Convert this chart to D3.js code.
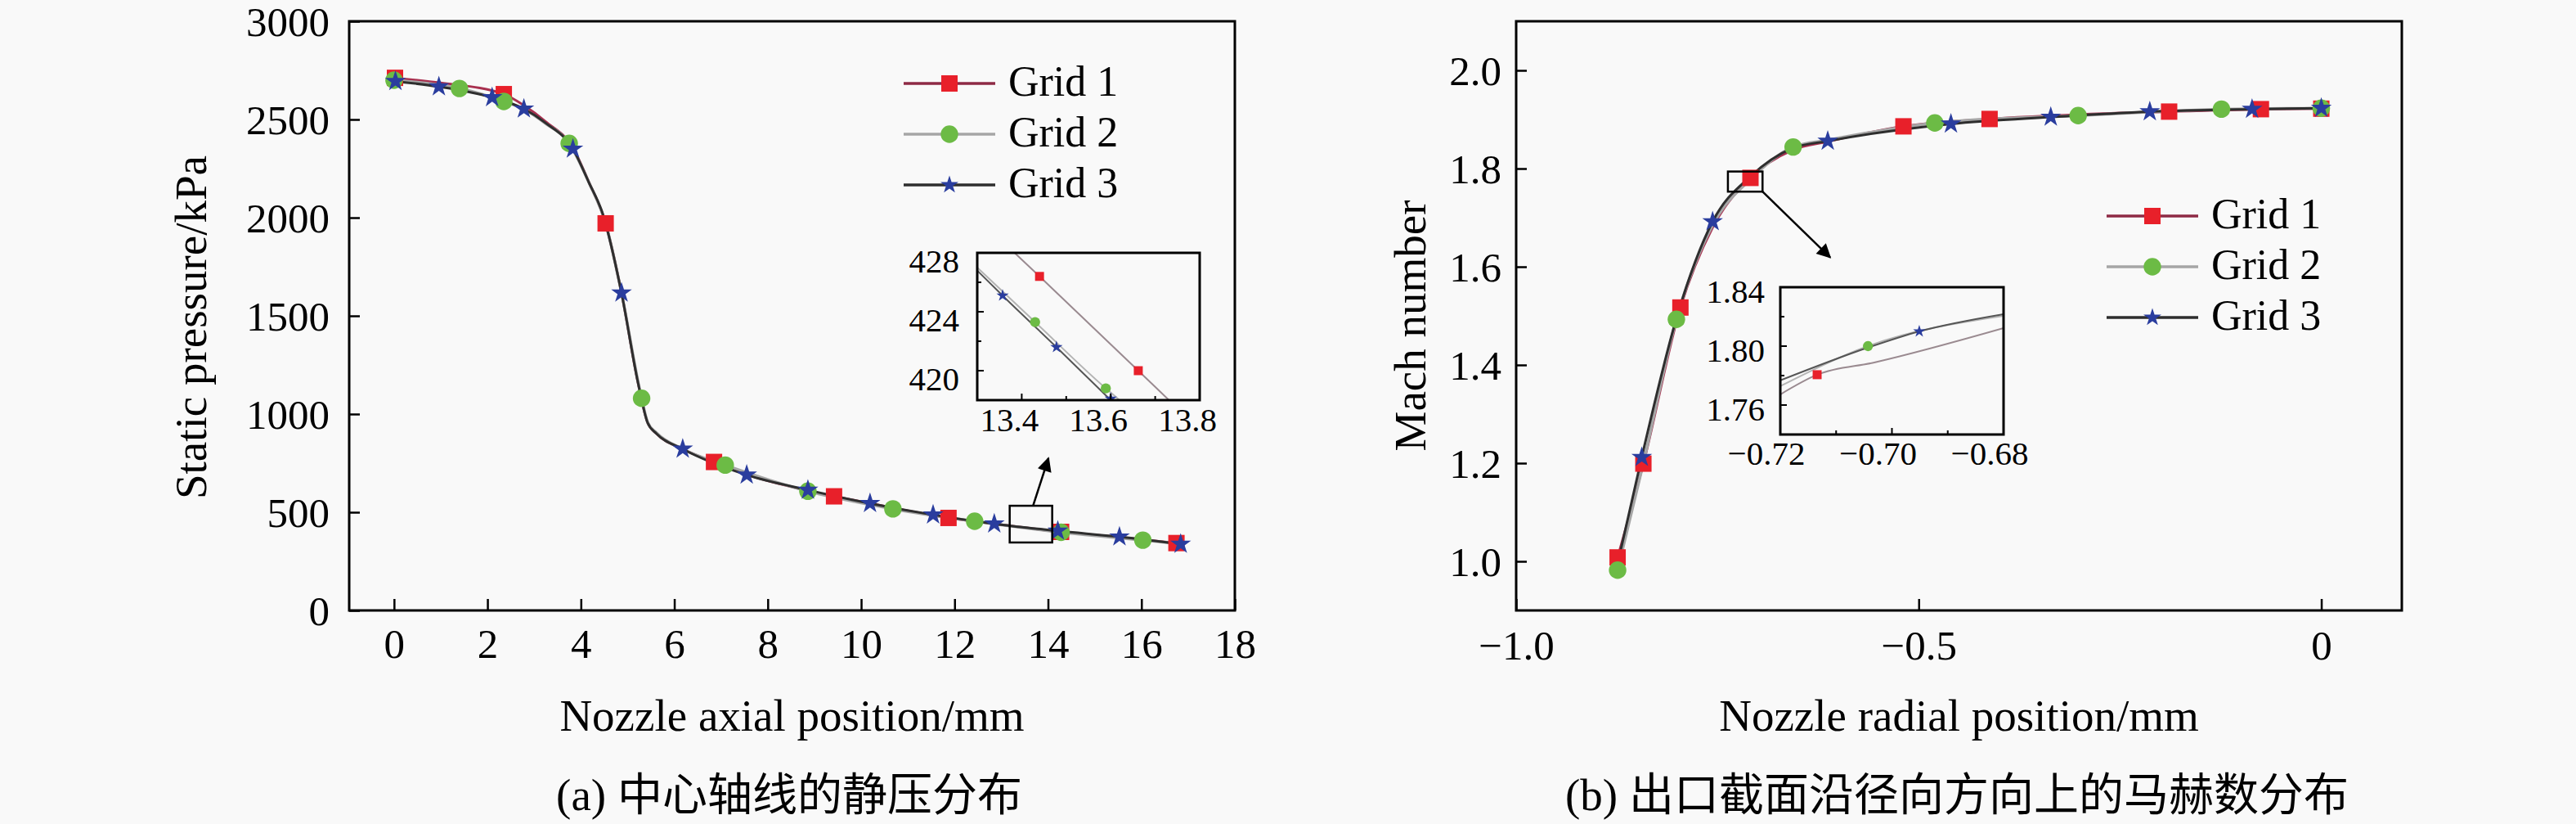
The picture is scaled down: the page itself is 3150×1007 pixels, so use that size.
<!DOCTYPE html>
<html><head><meta charset="utf-8">
<script src="https://cdn.jsdelivr.net/npm/d3@7"></script>
<style>html,body{margin:0;padding:0;background:#f9f9f9;} svg{display:block;}</style>
</head><body>
<svg id="c" width="3150" height="1007"></svg>
<script>
// ---------------- DATA: panel (a) static pressure along axis ----------------
const aXTicks = [0, 2, 4, 6, 8, 10, 12, 14, 16, 18];
const aYTicks = [0, 500, 1000, 1500, 2000, 2500, 3000];
const aGrid1Line = [[0,2712],[1.0,2686],[2.35,2629],[2.78,2572],[3.24,2490],[3.83,2355],[4.17,2182],[4.53,1971],[4.87,1617],[5.22,1163],[5.43,955],[5.62,900],[6.18,822],[6.85,756],[7.55,692],[8.86,610],[9.42,581],[10.19,545],[11.87,471],[12.85,441],[14.28,400],[15.53,373],[16.75,343]];
const aGrid2Line = [[0,2700],[1.40,2658],[2.35,2592],[2.78,2552],[3.24,2480],[3.75,2378],[4.17,2180],[4.53,1971],[4.87,1617],[5.30,1080],[5.43,958],[5.62,904],[6.18,822],[7.09,740],[8.86,607],[10.68,517],[12.43,454],[14.28,398],[16.03,358],[16.84,338]];
const aGrid3Line = [[0.03,2694],[0.96,2667],[2.10,2612],[2.78,2554],[3.24,2483],[3.83,2350],[4.17,2180],[4.46,2025],[4.87,1617],[5.22,1163],[5.43,955],[5.62,900],[6.18,822],[7.55,690],[8.86,613],[10.19,545],[11.54,487],[12.85,441],[14.21,405],[15.53,375],[16.84,338]];
const aGrid1Markers = [[0.02,2712],[2.35,2629],[4.53,1971],[6.85,756],[9.42,581],[11.87,471],[14.28,400],[16.75,343]];
const aGrid2Markers = [[0,2700],[1.40,2658],[2.35,2592],[3.75,2378],[5.30,1080],[7.09,740],[8.86,607],[10.68,517],[12.43,454],[14.28,398],[16.03,358]];
const aGrid3Markers = [[0.03,2694],[0.96,2667],[2.10,2612],[2.78,2554],[3.83,2350],[4.87,1617],[6.18,822],[7.55,690],[8.86,613],[10.19,545],[11.54,487],[12.85,441],[14.21,405],[15.53,375],[16.84,338]];
// zoom box / arrow annotation (data units)
const aZoomBox = [[13.18,533],[14.09,346]];
const aArrow = [[13.68,533],[14.01,775]];
// inset (a)
const aInsetXTicks = [13.4, 13.6, 13.8];
const aInsetXMinor = [13.5, 13.7];
const aInsetYTicks = [420, 424, 428];
const aInsetYMinor = [422, 426];
const aInsetGrid1Line = [[13.384,428],[13.44,426.4],[13.662,420.0],[13.731,418]];
const aInsetGrid2Line = [[13.3,427.0],[13.43,423.3],[13.589,418.8],[13.62,418]];
const aInsetGrid3Line = [[13.3,426.8],[13.357,425.1],[13.478,421.6],[13.60,418]];
const aInsetGrid1Markers = [[13.44,426.4],[13.662,420.0]];
const aInsetGrid2Markers = [[13.43,423.3],[13.589,418.8]];
const aInsetGrid3Markers = [[13.357,425.1],[13.478,421.6],[13.60,418.1]];

// ---------------- DATA: panel (b) Mach number along radius ----------------
const bXTicks = [-1.0, -0.5, 0];
const bYTicks = [1.0, 1.2, 1.4, 1.6, 1.8, 2.0];
const bGrid1Line = [[-0.874,1.008],[-0.842,1.199],[-0.796,1.517],[-0.756,1.68],[-0.709,1.781],[-0.656,1.838],[-0.613,1.855],[-0.519,1.886],[-0.412,1.901],[-0.189,1.916],[-0.075,1.921],[0,1.922]];
const bGrid2Line = [[-0.874,0.982],[-0.842,1.20],[-0.801,1.493],[-0.756,1.685],[-0.709,1.778],[-0.656,1.844],[-0.613,1.858],[-0.480,1.893],[-0.302,1.908],[-0.124,1.921],[0,1.923]];
const bGrid3Line = [[-0.874,0.995],[-0.844,1.212],[-0.800,1.50],[-0.756,1.692],[-0.709,1.784],[-0.656,1.842],[-0.613,1.856],[-0.460,1.891],[-0.336,1.905],[-0.213,1.916],[-0.086,1.921],[0,1.923]];
const bGrid1Markers = [[-0.874,1.008],[-0.842,1.199],[-0.796,1.517],[-0.709,1.781],[-0.519,1.886],[-0.412,1.901],[-0.189,1.916],[-0.075,1.921],[0,1.922]];
const bGrid2Markers = [[-0.874,0.982],[-0.801,1.493],[-0.656,1.844],[-0.480,1.893],[-0.302,1.908],[-0.124,1.921],[0,1.923]];
const bGrid3Markers = [[-0.844,1.212],[-0.756,1.692],[-0.613,1.856],[-0.460,1.891],[-0.336,1.905],[-0.213,1.916],[-0.086,1.921],[0,1.923]];
const bZoomBox = [[-0.737,1.794],[-0.694,1.753]];
const bArrow = [[-0.694,1.753],[-0.610,1.619]];
// inset (b)
const bInsetXTicks = [-0.72, -0.70, -0.68];
const bInsetXMinor = [-0.71, -0.69];
const bInsetYTicks = [1.76, 1.80, 1.84];
const bInsetYMinor = [1.78, 1.82];
const bInsetGrid1Line = [[-0.72,1.7672],[-0.7134,1.7806],[-0.703,1.789],[-0.68,1.8122]];
const bInsetGrid2Line = [[-0.72,1.7728],[-0.7043,1.80],[-0.68,1.8206]];
const bInsetGrid3Line = [[-0.72,1.7767],[-0.7043,1.799],[-0.6951,1.81],[-0.68,1.8217]];
const bInsetGrid1Markers = [[-0.7134,1.7806]];
const bInsetGrid2Markers = [[-0.7043,1.80]];
const bInsetGrid3Markers = [[-0.6951,1.81]];

const seriesNames = ['Grid 1', 'Grid 2', 'Grid 3'];

// ---------------- STYLE ----------------
const SERIF = '"Liberation Serif","Times New Roman",serif';
const CAP = '"Liberation Serif","Noto Sans CJK SC",serif';
const styles = [
  {line:'#a8304f', lw:3,   fill:'#e8202a', sym:d3.symbolSquare, size:400, isize:120},
  {line:'#a6a6a6', lw:3.5, fill:'#6cbb45', sym:d3.symbolCircle, size:360, isize:120},
  {line:'#2e2e2e', lw:3,   fill:'#2a3d9e', sym:d3.symbolStar,   size:200, isize:70}
];
const insetLineColors = ['#9a8a90', '#b4b4b4', '#555555'];

const svg = d3.select('#c');
svg.append('rect').attr('width',3150).attr('height',1007).attr('fill','#f9f9f9');
const defs = svg.append('defs');
defs.append('marker').attr('id','arrowhead').attr('viewBox','0 0 10 10')
  .attr('refX',9).attr('refY',5).attr('markerWidth',8).attr('markerHeight',7)
  .attr('markerUnits','strokeWidth').attr('orient','auto')
  .append('path').attr('d','M0,0 L10,5 L0,10 z').attr('fill','#000');

function drawLines(g, x, y, lines, colors, widths) {
  const line = d3.line().x(d => x(d[0])).y(d => y(d[1])).curve(d3.curveMonotoneX);
  lines.forEach((pts, i) => {
    g.append('path').attr('d', line(pts)).attr('fill','none')
      .attr('stroke', colors[i]).attr('stroke-width', widths[i]).attr('stroke-linejoin','round');
  });
}
function drawMarkers(g, x, y, markers, sizeKey) {
  markers.forEach((pts, i) => {
    const st = styles[i];
    g.selectAll(null).data(pts).enter().append('path')
      .attr('d', d3.symbol().type(st.sym).size(st[sizeKey]))
      .attr('transform', d => `translate(${x(d[0])},${y(d[1])})`)
      .attr('fill', st.fill);
  });
}

function panel(cfg) {
  const g = svg.append('g');
  const x = d3.scaleLinear().domain(cfg.xDomain).range([cfg.x0, cfg.x1]);
  const y = d3.scaleLinear().domain(cfg.yDomain).range([cfg.y1, cfg.y0]);
  const ax = g.append('g').attr('transform', `translate(0,${cfg.y1})`)
    .call(d3.axisBottom(x).tickValues(cfg.xTicks).tickSize(-14).tickSizeOuter(0).tickFormat(cfg.xFmt));
  ax.select('.domain').remove();
  ax.selectAll('line').attr('stroke','#000').attr('stroke-width',2.5);
  ax.selectAll('text').attr('y', cfg.xLabelBase - cfg.y1).attr('dy', 0)
    .attr('font-family', SERIF).attr('font-size', 51).attr('fill','#000');
  const ay = g.append('g').attr('transform', `translate(${cfg.x0},0)`)
    .call(d3.axisLeft(y).tickValues(cfg.yTicks).tickSize(-13).tickSizeOuter(0).tickPadding(cfg.yPad).tickFormat(cfg.yFmt));
  ay.select('.domain').remove();
  ay.selectAll('line').attr('stroke','#000').attr('stroke-width',2.5);
  ay.selectAll('text').attr('dy','0.34em').attr('font-family', SERIF).attr('font-size', 51).attr('fill','#000');
  drawLines(g, x, y, cfg.lines, styles.map(s => s.line), styles.map(s => s.lw));
  drawMarkers(g, x, y, cfg.markers, 'size');
  g.append('rect').attr('x', cfg.x0).attr('y', cfg.y0).attr('width', cfg.x1 - cfg.x0).attr('height', cfg.y1 - cfg.y0)
    .attr('fill','none').attr('stroke','#000').attr('stroke-width',3);
  const b = cfg.zoomBox;
  g.append('rect').attr('x', x(b[0][0])).attr('y', y(b[0][1]))
    .attr('width', x(b[1][0]) - x(b[0][0])).attr('height', y(b[1][1]) - y(b[0][1]))
    .attr('fill','none').attr('stroke','#000').attr('stroke-width',2.5);
  g.append('line').attr('x1', x(cfg.arrow[0][0])).attr('y1', y(cfg.arrow[0][1]))
    .attr('x2', x(cfg.arrow[1][0])).attr('y2', y(cfg.arrow[1][1]))
    .attr('stroke','#000').attr('stroke-width',2.5).attr('marker-end','url(#arrowhead)');
  g.append('text').attr('x', (cfg.x0 + cfg.x1) / 2).attr('y', 893).attr('text-anchor','middle')
    .attr('font-family', SERIF).attr('font-size', 55).text(cfg.xTitle);
  g.append('text').attr('transform', `translate(${cfg.yTitleX},${cfg.yTitleY}) rotate(-90)`).attr('text-anchor','middle')
    .attr('font-family', SERIF).attr('font-size', 55).text(cfg.yTitle);
  g.append('text').attr('x', cfg.capX).attr('y', 990).attr('text-anchor','middle')
    .attr('font-family', CAP).attr('font-size', 55).text(cfg.caption);
  seriesNames.forEach((name, i) => {
    const ly = cfg.legY + i * 62;
    const st = styles[i];
    g.append('line').attr('x1', cfg.legX0).attr('x2', cfg.legX1).attr('y1', ly).attr('y2', ly)
      .attr('stroke', i === 0 ? '#8e2a45' : st.line).attr('stroke-width', 3.5);
    g.append('path').attr('d', d3.symbol().type(st.sym).size(i === 2 ? 150 : st.size))
      .attr('transform', `translate(${(cfg.legX0 + cfg.legX1) / 2},${ly})`).attr('fill', st.fill);
    g.append('text').attr('x', cfg.legX1 + 16).attr('y', ly + 15).attr('font-family', SERIF)
      .attr('font-size', 52).text(name);
  });
  const ins = cfg.inset;
  const ig = g.append('g');
  const ix = d3.scaleLinear().domain(ins.xDomain).range([ins.x0, ins.x1]);
  const iy = d3.scaleLinear().domain(ins.yDomain).range([ins.y1, ins.y0]);
  const clipId = cfg.id + 'clip';
  defs.append('clipPath').attr('id', clipId).append('rect')
    .attr('x', ins.x0).attr('y', ins.y0).attr('width', ins.x1 - ins.x0).attr('height', ins.y1 - ins.y0);
  ig.append('rect').attr('x', ins.x0).attr('y', ins.y0).attr('width', ins.x1 - ins.x0).attr('height', ins.y1 - ins.y0)
    .attr('fill','#f9f9f9');
  const data = ig.append('g').attr('clip-path', `url(#${clipId})`);
  drawLines(data, ix, iy, ins.lines, insetLineColors, [2, 2, 2]);
  drawMarkers(data, ix, iy, ins.markers, 'isize');
  ins.xTicks.concat(ins.xMinor).forEach((t, k) => {
    const len = k < ins.xTicks.length ? 8 : 5;
    ig.append('line').attr('x1', ix(t)).attr('x2', ix(t)).attr('y1', ins.y1).attr('y2', ins.y1 - len)
      .attr('stroke','#000').attr('stroke-width',2);
  });
  ins.yTicks.concat(ins.yMinor).forEach((t, k) => {
    const len = k < ins.yTicks.length ? 8 : 5;
    ig.append('line').attr('y1', iy(t)).attr('y2', iy(t)).attr('x1', ins.x0).attr('x2', ins.x0 + len)
      .attr('stroke','#000').attr('stroke-width',2);
  });
  ig.selectAll(null).data(ins.xTicks).enter().append('text')
    .attr('x', d => ix(d) + ins.xLabelDx).attr('y', ins.xLabelBase).attr('text-anchor','middle')
    .attr('font-family', SERIF).attr('font-size', 41).text(ins.xFmt);
  ig.selectAll(null).data(ins.yTicks).enter().append('text')
    .attr('x', ins.yLabelEnd).attr('y', d => iy(d) + ins.yLabelDy).attr('dy','0.34em').attr('text-anchor','end')
    .attr('font-family', SERIF).attr('font-size', 41).text(ins.yFmt);
  ig.append('rect').attr('x', ins.x0).attr('y', ins.y0).attr('width', ins.x1 - ins.x0).attr('height', ins.y1 - ins.y0)
    .attr('fill','none').attr('stroke','#000').attr('stroke-width',3);
}

const minusFmt = f => d => d3.format(f)(d).replace('-', '\u2212');

panel({
  id:'a', x0:427, x1:1510, y0:26, y1:746,
  xDomain:[-0.96, 18], yDomain:[0, 3000],
  xTicks:aXTicks, yTicks:aYTicks, xFmt:d3.format('d'), yFmt:d3.format('d'),
  xLabelBase:804, yPad:24,
  lines:[aGrid1Line, aGrid2Line, aGrid3Line],
  markers:[aGrid1Markers, aGrid2Markers, aGrid3Markers],
  zoomBox:aZoomBox, arrow:aArrow,
  xTitle:'Nozzle axial position/mm', yTitle:'Static pressure/kPa', yTitleX:252, yTitleY:400,
  caption:'(a) 中心轴线的静压分布', capX:965,
  legX0:1105, legX1:1217, legY:102,
  inset:{x0:1195, x1:1467, y0:309, y1:489, xDomain:[13.3, 13.8], yDomain:[418, 428],
    xTicks:aInsetXTicks, xMinor:aInsetXMinor, yTicks:aInsetYTicks, yMinor:aInsetYMinor,
    xFmt:d3.format('.1f'), yFmt:d3.format('d'), xLabelDx:-15, xLabelBase:527, yLabelEnd:1173, yLabelDy:10,
    lines:[aInsetGrid1Line, aInsetGrid2Line, aInsetGrid3Line],
    markers:[aInsetGrid1Markers, aInsetGrid2Markers, aInsetGrid3Markers]}
});

panel({
  id:'b', x0:1854, x1:2937, y0:26, y1:746,
  xDomain:[-1.0, 0.1], yDomain:[0.9, 2.1],
  xTicks:bXTicks, yTicks:bYTicks, xFmt:d => d === 0 ? '0' : minusFmt('.1f')(d), yFmt:d3.format('.1f'),
  xLabelBase:806, yPad:18,
  lines:[bGrid1Line, bGrid2Line, bGrid3Line],
  markers:[bGrid1Markers, bGrid2Markers, bGrid3Markers],
  zoomBox:bZoomBox, arrow:bArrow,
  xTitle:'Nozzle radial position/mm', yTitle:'Mach number', yTitleX:1743, yTitleY:398,
  caption:'(b) 出口截面沿径向方向上的马赫数分布', capX:2393,
  legX0:2576, legX1:2688, legY:264,
  inset:{x0:2177, x1:2450, y0:351, y1:531, xDomain:[-0.72, -0.68], yDomain:[1.74, 1.84],
    xTicks:bInsetXTicks, xMinor:bInsetXMinor, yTicks:bInsetYTicks, yMinor:bInsetYMinor,
    xFmt:minusFmt('.2f'), yFmt:d3.format('.2f'), xLabelDx:-17, xLabelBase:568, yLabelEnd:2158, yLabelDy:5,
    lines:[bInsetGrid1Line, bInsetGrid2Line, bInsetGrid3Line],
    markers:[bInsetGrid1Markers, bInsetGrid2Markers, bInsetGrid3Markers]}
});
</script></body></html>
